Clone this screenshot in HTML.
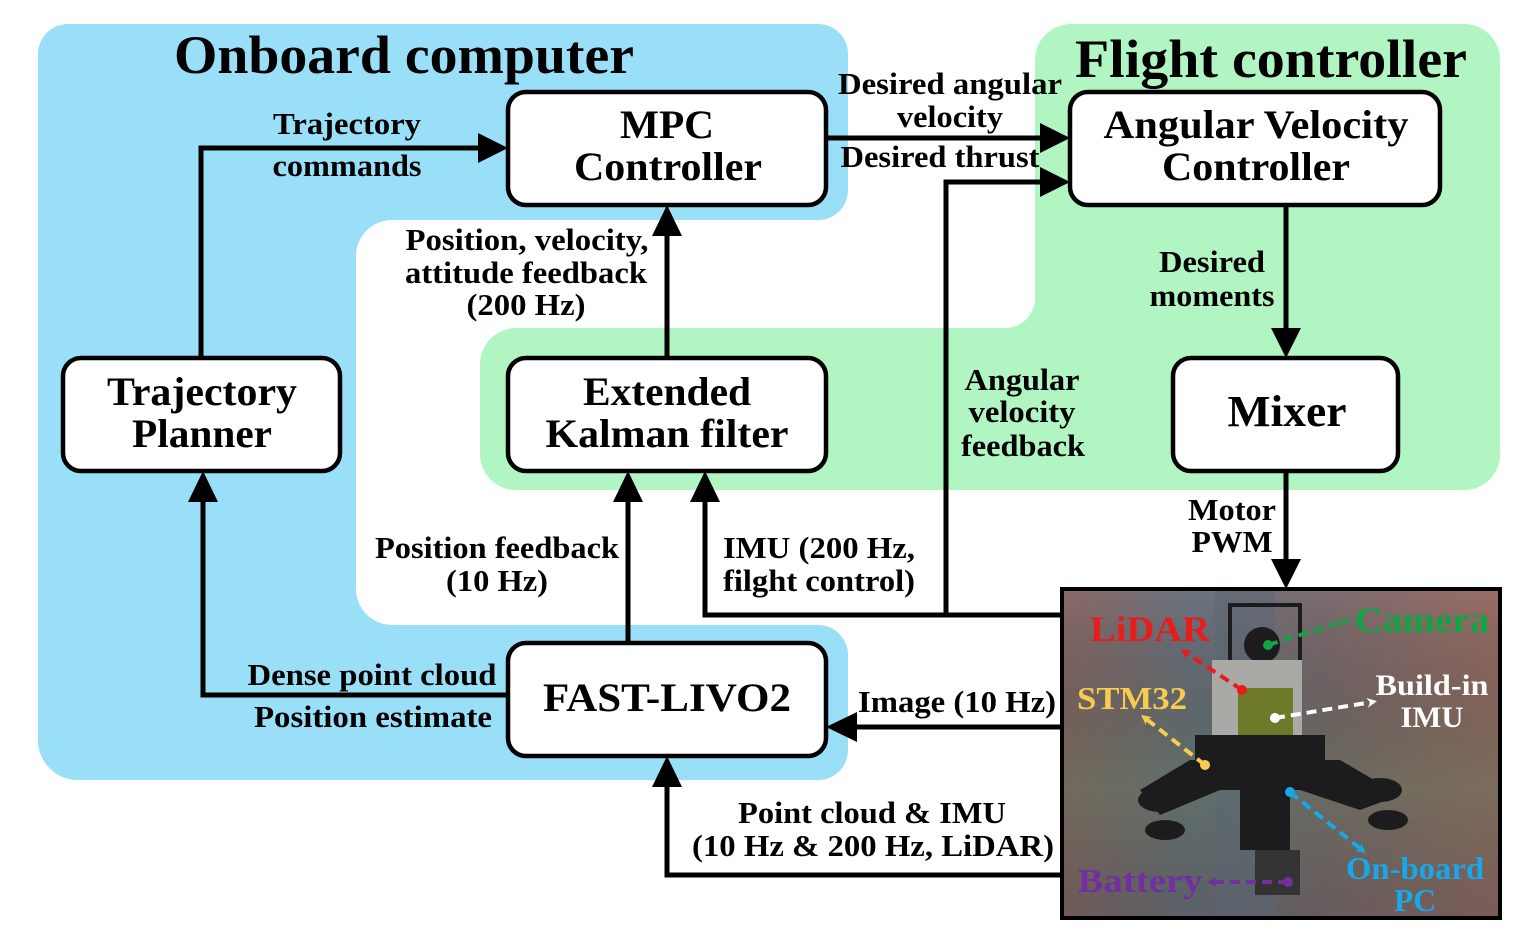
<!DOCTYPE html>
<html><head><meta charset="utf-8"><style>
html,body{margin:0;padding:0;background:#fff;}
svg{display:block;}
text{font-family:"Liberation Serif",serif;font-weight:bold;fill:#000;}
</style></head><body>
<svg width="1519" height="936" viewBox="0 0 1519 936" xmlns="http://www.w3.org/2000/svg">
<defs>
<linearGradient id="bg" x1="0" y1="0" x2="1" y2="0">
<stop offset="0" stop-color="#8a6a66"/><stop offset="0.3" stop-color="#6c7480"/><stop offset="0.6" stop-color="#7d6d70"/><stop offset="1" stop-color="#9a6e66"/>
</linearGradient>
<linearGradient id="bg2" x1="0" y1="0" x2="0" y2="1">
<stop offset="0" stop-color="#000" stop-opacity="0"/><stop offset="0.6" stop-color="#4e6a4a" stop-opacity="0.4"/><stop offset="1" stop-color="#333" stop-opacity="0.3"/>
</linearGradient>
<marker id="mr" markerWidth="10" markerHeight="10" refX="5" refY="5" orient="auto" markerUnits="userSpaceOnUse" viewBox="0 0 10 10"><polygon points="0,0 10,5 0,10 3,5" fill="#e81c1c"/></marker>
<marker id="mg" markerWidth="10" markerHeight="10" refX="5" refY="5" orient="auto" markerUnits="userSpaceOnUse" viewBox="0 0 10 10"><polygon points="0,0 10,5 0,10 3,5" fill="#13a346"/></marker>
<marker id="mw" markerWidth="10" markerHeight="10" refX="5" refY="5" orient="auto" markerUnits="userSpaceOnUse" viewBox="0 0 10 10"><polygon points="0,0 10,5 0,10 3,5" fill="#fff"/></marker>
<marker id="my" markerWidth="10" markerHeight="10" refX="5" refY="5" orient="auto" markerUnits="userSpaceOnUse" viewBox="0 0 10 10"><polygon points="0,0 10,5 0,10 3,5" fill="#f8cc4e"/></marker>
<marker id="mb" markerWidth="10" markerHeight="10" refX="5" refY="5" orient="auto" markerUnits="userSpaceOnUse" viewBox="0 0 10 10"><polygon points="0,0 10,5 0,10 3,5" fill="#16a8e8"/></marker>
<marker id="mp" markerWidth="10" markerHeight="10" refX="5" refY="5" orient="auto" markerUnits="userSpaceOnUse" viewBox="0 0 10 10"><polygon points="0,0 10,5 0,10 3,5" fill="#7030a0"/></marker>
</defs>
<!-- regions -->
<rect x="38" y="24" width="810" height="756" rx="40" fill="#9ADFF8"/>
<rect x="356" y="220" width="700" height="405" rx="36" fill="#fff"/>
<rect x="800" y="190" width="60" height="50" fill="#fff"/>
<rect x="38" y="24" width="810" height="196" rx="30" fill="#9ADFF8"/>
<rect x="800" y="600" width="60" height="60" fill="#fff"/>
<rect x="356" y="625" width="492" height="155" rx="30" fill="#9ADFF8"/>
<rect x="38" y="625" width="400" height="155" rx="40" fill="#9ADFF8"/>
<rect x="38" y="625" width="400" height="40" fill="#9ADFF8"/>
<rect x="1035" y="24" width="465" height="466" rx="36" fill="#B0F5C2"/>
<rect x="480" y="328" width="1020" height="162" rx="36" fill="#B0F5C2"/>
<rect x="1000" y="290" width="40" height="45" fill="#B0F5C2"/>
<rect x="850" y="150" width="185" height="178" rx="30" fill="#fff"/>
<text x="404" y="73" font-size="54" text-anchor="middle" textLength="460" lengthAdjust="spacingAndGlyphs">Onboard computer</text>
<text x="1271" y="77" font-size="54" text-anchor="middle" textLength="392" lengthAdjust="spacingAndGlyphs">Flight controller</text>

<!-- connectors -->
<g stroke="#000" stroke-width="5" fill="none">
<polyline points="201,358 201,148 482,148"/>
<line x1="667" y1="358" x2="667" y2="232"/>
<line x1="826" y1="138" x2="1044" y2="138"/>
<polyline points="1062,615 946,615 946,182 1044,182"/>
<polyline points="946,615 705,615 705,498"/>
<line x1="628" y1="643" x2="628" y2="498"/>
<polyline points="508,695 203,695 203,498"/>
<line x1="1062" y1="727" x2="852" y2="727"/>
<polyline points="1062,875 667,875 667,783"/>
<line x1="1286" y1="205" x2="1286" y2="332"/>
<line x1="1286" y1="471" x2="1286" y2="563"/>
</g>
<g fill="#000">
<polygon points="508,148 478,133 478,163"/>
<polygon points="667,205 652,236 682,236"/>
<polygon points="1070,138 1040,123 1040,153"/>
<polygon points="1070,182 1040,167 1040,197"/>
<polygon points="705,471 690,502 720,502"/>
<polygon points="628,471 613,502 643,502"/>
<polygon points="203,471 188,502 218,502"/>
<polygon points="826,727 857,712 857,742"/>
<polygon points="667,756 652,787 682,787"/>
<polygon points="1286,358 1271,328 1301,328"/>
<polygon points="1286,589 1271,559 1301,559"/>
</g>

<!-- boxes -->
<g fill="#fff" stroke="#000" stroke-width="4.5">
<rect x="508" y="92" width="318" height="113" rx="18"/>
<rect x="1070" y="92" width="370" height="113" rx="18"/>
<rect x="63" y="358" width="277" height="113" rx="18"/>
<rect x="508" y="358" width="318" height="113" rx="18"/>
<rect x="1173" y="358" width="225" height="113" rx="18"/>
<rect x="508" y="643" width="318" height="113" rx="18"/>
</g>
<g font-size="40" text-anchor="middle" lengthAdjust="spacingAndGlyphs">
<text x="667" y="138" textLength="94" lengthAdjust="spacingAndGlyphs">MPC</text><text x="668" y="180" textLength="188" lengthAdjust="spacingAndGlyphs">Controller</text>
<text x="1256" y="138" textLength="305" lengthAdjust="spacingAndGlyphs">Angular Velocity</text><text x="1256" y="180" textLength="188" lengthAdjust="spacingAndGlyphs">Controller</text>
<text x="202" y="405" textLength="190" lengthAdjust="spacingAndGlyphs">Trajectory</text><text x="202" y="447" textLength="140" lengthAdjust="spacingAndGlyphs">Planner</text>
<text x="667" y="405" textLength="168" lengthAdjust="spacingAndGlyphs">Extended</text><text x="667" y="447" textLength="243" lengthAdjust="spacingAndGlyphs">Kalman filter</text>
<text x="1287" y="426" font-size="44" textLength="119" lengthAdjust="spacingAndGlyphs">Mixer</text>
<text x="667" y="711" textLength="248" lengthAdjust="spacingAndGlyphs">FAST-LIVO2</text>
</g>

<!-- labels -->
<g font-size="31" text-anchor="middle">
<text x="347" y="134" textLength="148" lengthAdjust="spacingAndGlyphs">Trajectory</text><text x="347" y="176" textLength="149" lengthAdjust="spacingAndGlyphs">commands</text>
<text x="950" y="94" textLength="224" lengthAdjust="spacingAndGlyphs">Desired angular</text><text x="950" y="127" textLength="106" lengthAdjust="spacingAndGlyphs">velocity</text>
<text x="940" y="167" textLength="199" lengthAdjust="spacingAndGlyphs">Desired thrust</text>
<text x="527" y="250" textLength="243" lengthAdjust="spacingAndGlyphs">Position, velocity,</text><text x="526" y="283" textLength="242" lengthAdjust="spacingAndGlyphs">attitude feedback</text><text x="526" y="315" textLength="119" lengthAdjust="spacingAndGlyphs">(200 Hz)</text>
<text x="1212" y="272" textLength="106" lengthAdjust="spacingAndGlyphs">Desired</text><text x="1212" y="306" textLength="125" lengthAdjust="spacingAndGlyphs">moments</text>
<text x="1022" y="390" textLength="115" lengthAdjust="spacingAndGlyphs">Angular</text><text x="1022" y="422" textLength="107" lengthAdjust="spacingAndGlyphs">velocity</text><text x="1023" y="456" textLength="124" lengthAdjust="spacingAndGlyphs">feedback</text>
<text x="497" y="558" textLength="244" lengthAdjust="spacingAndGlyphs">Position feedback</text><text x="497" y="591" textLength="102" lengthAdjust="spacingAndGlyphs">(10 Hz)</text>
<text x="819" y="558" textLength="192" lengthAdjust="spacingAndGlyphs">IMU (200 Hz,</text><text x="819" y="591" textLength="192" lengthAdjust="spacingAndGlyphs">filght control)</text>
<text x="1232" y="520" textLength="88" lengthAdjust="spacingAndGlyphs">Motor</text><text x="1232" y="552" textLength="81" lengthAdjust="spacingAndGlyphs">PWM</text>
<text x="372" y="685" textLength="249" lengthAdjust="spacingAndGlyphs">Dense point cloud</text><text x="373" y="727" textLength="238" lengthAdjust="spacingAndGlyphs">Position estimate</text>
<text x="957" y="712" textLength="198" lengthAdjust="spacingAndGlyphs">Image (10 Hz)</text>
<text x="872" y="823" textLength="268" lengthAdjust="spacingAndGlyphs">Point cloud &amp; IMU</text><text x="873" y="856" textLength="362" lengthAdjust="spacingAndGlyphs">(10 Hz &amp; 200 Hz, LiDAR)</text>
</g>

<!-- photo -->
<rect x="1062" y="589" width="438" height="329" fill="url(#bg)"/>
<rect x="1062" y="589" width="438" height="329" fill="url(#bg2)"/>
<rect x="1215" y="590" width="60" height="326" fill="#5a6574" opacity="0.5"/>
<g fill="#1c1c1e">
<rect x="1230" y="605" width="70" height="60" fill="none" stroke="#1c1c1e" stroke-width="4"/>
<circle cx="1262" cy="645" r="18"/>
<rect x="1212" y="660" width="90" height="80" fill="#a9a9a5"/>
<rect x="1238" y="688" width="55" height="50" fill="#6e7a2a"/>
<rect x="1195" y="735" width="130" height="40"/>
<polygon points="1140,790 1190,760 1340,760 1400,795 1360,810 1300,790 1220,790 1160,815"/>
<ellipse cx="1160" cy="800" rx="22" ry="12"/><ellipse cx="1380" cy="790" rx="22" ry="12"/>
<ellipse cx="1165" cy="830" rx="20" ry="10"/><ellipse cx="1388" cy="820" rx="20" ry="10"/>
<rect x="1240" y="780" width="50" height="70"/>
<rect x="1255" y="850" width="45" height="45" fill="#333"/>
</g>
<rect x="1062" y="589" width="438" height="329" fill="none" stroke="#000" stroke-width="4"/>
<g font-size="36" text-anchor="middle">
<text x="1150" y="641" textLength="120" lengthAdjust="spacingAndGlyphs" style="fill:#e81c1c">LiDAR</text>
<text x="1422" y="632" textLength="135" lengthAdjust="spacingAndGlyphs" style="fill:#13a346">Camera</text>
<text x="1132" y="709" font-size="32" textLength="110" lengthAdjust="spacingAndGlyphs" style="fill:#f8cc4e">STM32</text>
<text x="1432" y="695" font-size="30" textLength="113" lengthAdjust="spacingAndGlyphs" style="fill:#fff">Build-in</text>
<text x="1432" y="727" font-size="30" textLength="63" lengthAdjust="spacingAndGlyphs" style="fill:#fff">IMU</text>
<text x="1415" y="879" font-size="32" textLength="138" lengthAdjust="spacingAndGlyphs" style="fill:#16a8e8">On-board</text>
<text x="1415" y="911" font-size="32" textLength="42" lengthAdjust="spacingAndGlyphs" style="fill:#16a8e8">PC</text>
<text x="1140" y="892" font-size="34" textLength="125" lengthAdjust="spacingAndGlyphs" style="fill:#7030a0">Battery</text>
</g>
<g stroke-width="4" stroke-dasharray="10,6" fill="none">
<line x1="1242" y1="690" x2="1185" y2="652" stroke="#e81c1c" marker-end="url(#mr)"/>
<line x1="1268" y1="645" x2="1345" y2="621" stroke="#13a346" marker-end="url(#mg)"/>
<line x1="1275" y1="718" x2="1372" y2="702" stroke="#fff" marker-end="url(#mw)"/>
<line x1="1205" y1="765" x2="1145" y2="718" stroke="#f8cc4e" marker-end="url(#my)"/>
<line x1="1290" y1="792" x2="1362" y2="850" stroke="#16a8e8" marker-end="url(#mb)"/>
<line x1="1288" y1="882" x2="1212" y2="882" stroke="#7030a0" marker-end="url(#mp)"/>
</g>
<circle cx="1242" cy="690" r="5" fill="#e81c1c"/>
<circle cx="1268" cy="645" r="5" fill="#13a346"/>
<circle cx="1275" cy="718" r="5" fill="#fff"/>
<circle cx="1205" cy="765" r="5" fill="#f8cc4e"/>
<circle cx="1290" cy="792" r="5" fill="#16a8e8"/>
<circle cx="1288" cy="882" r="5" fill="#7030a0"/>
</svg>
</body></html>
